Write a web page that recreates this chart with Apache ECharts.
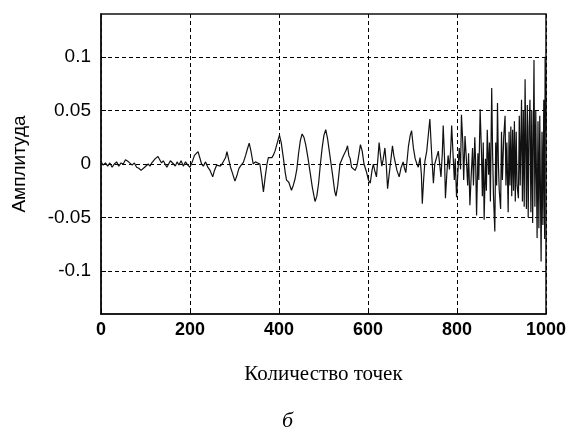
<!DOCTYPE html>
<html>
<head>
<meta charset="utf-8">
<script src="https://cdn.jsdelivr.net/npm/echarts@6/dist/echarts.min.js"></script>
<style>
  html, body { margin: 0; padding: 0; background: #fff; }
  #chart { width: 575px; height: 436px; }
</style>
</head>
<body>
<div id="chart"></div>
<script>
// отсчёты (номер точки) и амплитуда
var pointsX = [
  0, 5, 10, 15, 20, 25, 30, 35, 40, 45, 50, 55, 58, 62, 66, 70, 75, 80, 85, 90,
  94, 98, 102, 106, 110, 114, 118, 122, 128, 132, 136, 140, 144, 148, 152, 156, 159, 163, 167, 171,
  175, 180, 185, 190, 195, 200, 205, 210, 218, 222, 226, 230, 235, 240, 245, 251, 255, 260, 264, 268,
  272, 276, 280, 283, 287, 291, 295, 301, 306, 310, 315, 320, 325, 329, 333, 337, 342, 347, 352, 357,
  361, 365, 369, 373, 376, 380, 384, 387, 391, 395, 401, 405, 410, 414, 417, 422, 428, 432, 436, 440,
  444, 448, 452, 456, 460, 465, 470, 475, 481, 485, 489, 493, 497, 501, 505, 509, 513, 517, 521, 525,
  528, 532, 537, 541, 545, 548, 551, 554, 557, 560, 563, 567, 571, 575, 578, 583, 587, 591, 594, 597,
  601, 605, 609, 612, 615, 619, 622, 625, 628, 631, 634, 638, 641, 644, 648, 652, 655, 658, 661, 665,
  670, 674, 679, 682, 685, 688, 691, 695, 698, 702, 706, 710, 713, 717, 720, 722, 725, 728, 732, 735,
  739, 743, 747, 750, 754, 758, 761, 764, 767, 769, 772, 774, 777, 780, 783, 786, 788, 791, 794, 796,
  799, 802, 805, 808, 810, 813, 815, 818, 821, 824, 826, 829, 832, 835, 837, 840, 842, 844, 847, 849,
  852, 855, 857, 859, 861, 864, 866, 868, 871, 873, 875, 878, 880, 882, 885, 887, 889, 891, 893, 895,
  898, 900, 902, 905, 908, 910, 912, 915, 917, 919, 921, 923, 925, 927, 929, 931, 933, 935, 938, 940,
  942, 945, 947, 949, 951, 953, 956, 958, 960, 962, 964, 966, 968, 970, 973, 975, 977, 980, 982, 984,
  986, 989, 991, 993, 995, 997, 998, 1000
];
var amplitude = [
  0.002, -0.001, 0.001, -0.002, 0.001, -0.003, 0.0, 0.002, -0.002, 0.001, 0.0, 0.004, 0.0055, 0.002, 0.003, -0.001, 0.001, -0.003, -0.004, -0.006,
  -0.007, -0.003, -0.002, 0.0, -0.002, 0.001, 0.002, 0.005, 0.007, 0.004, 0.001, 0.003, 0.0, -0.003, -0.002, 0.003, 0.0046, 0.0, -0.002, 0.002,
  -0.001, 0.003, -0.002, 0.002, -0.001, -0.003, 0.002, 0.008, 0.0115, 0.006, 0.0, -0.002, 0.002, -0.003, -0.006, -0.012, -0.006, -0.001, 0.0, -0.002,
  0.0, -0.001, 0.006, 0.0115, 0.004, -0.003, -0.008, -0.016, -0.01, -0.004, -0.001, 0.0015, 0.008, 0.014, 0.0195, 0.012, 0.0, 0.002, 0.001, 0.0,
  -0.012, -0.026, -0.012, 0.0, 0.006, 0.007, 0.006, 0.008, 0.012, 0.018, 0.027, 0.02, 0.005, -0.008, -0.015, -0.017, -0.0245, -0.02, -0.014, -0.005,
  0.01, 0.022, 0.028, 0.025, 0.018, 0.006, -0.008, -0.022, -0.035, -0.03, -0.018, 0.0, 0.015, 0.027, 0.032, 0.024, 0.012, 0.0, -0.012, -0.025,
  -0.03, -0.02, 0.0, 0.004, 0.008, 0.008, 0.013, 0.017, 0.008, 0.005, -0.003, -0.004, -0.006, -0.002, 0.005, 0.018, 0.012, 0.0, -0.004, -0.008,
  -0.015, -0.018, -0.006, 0.0, -0.006, -0.012, 0.004, 0.02, 0.008, -0.002, 0.004, 0.015, 0.0, -0.023, -0.008, 0.006, 0.017, 0.008, 0.002, -0.006,
  -0.012, -0.004, 0.002, -0.004, -0.008, 0.004, 0.017, 0.027, 0.031, 0.015, 0.005, 0.0, -0.003, 0.006, -0.01, -0.037, -0.015, 0.003, 0.012, 0.025,
  0.042, 0.01, -0.018, 0.0, 0.006, 0.012, 0.0, -0.012, 0.01, 0.036, 0.005, -0.032, -0.01, 0.008, -0.005, 0.015, 0.036, 0.01, -0.015, 0.005,
  -0.031, -0.008, 0.015, -0.005, 0.046, 0.02, -0.015, 0.026, 0.005, -0.02, 0.01, -0.0385, -0.01, 0.015, -0.02, 0.025, 0.0, -0.048, 0.01, -0.015,
  0.051, 0.01, -0.03, 0.02, -0.052, 0.005, -0.025, 0.032, -0.01, 0.02, -0.035, 0.071, 0.01, -0.03, -0.063, 0.02, -0.02, 0.057, 0.0, -0.025,
  -0.042, 0.03, -0.015, 0.025, 0.045, -0.02, 0.02, -0.045, 0.03, -0.02, 0.035, -0.03, 0.032, -0.025, 0.04, -0.035, 0.03, -0.02, -0.032, 0.045,
  -0.02, 0.06, -0.035, 0.05, -0.04, 0.079, -0.042, 0.055, -0.05, 0.035, 0.06, -0.045, 0.05, -0.055, 0.097, -0.04, 0.05, -0.069, 0.04, -0.06,
  0.045, -0.091, 0.03, -0.057, 0.06, -0.07, 0.10, 0.03
];
var xTicks = [0, 200, 400, 600, 800, 1000];
var yTicks = [-0.1, -0.05, 0, 0.05, 0.1];

var seriesData = [];
for (var i = 0; i < pointsX.length; i++) {
  seriesData.push([pointsX[i], amplitude[i]]);
}

var chart = echarts.init(document.getElementById('chart'));
var option = {
  animation: false,
  backgroundColor: '#fff',
  title: {
    text: 'б',
    left: 'center',
    top: 405,
    textStyle: {
      fontFamily: 'Liberation Serif',
      fontStyle: 'italic',
      fontWeight: 'normal',
      fontSize: 22,
      color: '#000'
    }
  },
  grid: {
    left: 101,
    right: 29,
    top: 14,
    bottom: 122,
    show: true,
    borderColor: '#111',
    borderWidth: 1.5,
    backgroundColor: '#fff'
  },
  xAxis: {
    type: 'value',
    min: 0,
    max: 1000,
    interval: 200,
    name: 'Количество точек',
    nameLocation: 'middle',
    nameGap: 50,
    nameTextStyle: {
      fontFamily: 'Liberation Serif',
      fontSize: 21,
      color: '#000'
    },
    axisLine: { show: true, onZero: false, lineStyle: { color: '#111', width: 1.5 } },
    axisTick: { show: true, inside: true, length: 5, lineStyle: { color: '#000' } },
    axisLabel: {
      margin: 7,
      fontFamily: 'Liberation Sans',
      fontWeight: 'bold',
      fontSize: 18,
      color: '#000',
      formatter: function (v) { return xTicks.indexOf(v) >= 0 ? String(v) : ''; }
    },
    splitLine: { show: true, lineStyle: { color: '#000', type: [4, 3], width: 1 } }
  },
  yAxis: {
    type: 'value',
    min: -0.14,
    max: 0.14,
    name: 'Амплитуда',
    nameLocation: 'middle',
    nameGap: 72,
    nameRotate: 90,
    nameTextStyle: {
      fontFamily: 'Liberation Sans',
      fontSize: 19,
      color: '#000'
    },
    axisLine: { show: true, onZero: false, lineStyle: { color: '#111', width: 1.5 } },
    axisTick: { show: true, inside: true, length: 5, customValues: yTicks, lineStyle: { color: '#000' } },
    axisLabel: {
      margin: 10,
      fontFamily: 'Liberation Sans',
      fontSize: 19,
      color: '#000',
      customValues: yTicks,
      formatter: function (v) { return String(Math.round(v * 100) / 100); }
    },
    splitLine: { show: true, lineStyle: { color: '#000', type: [4, 3], width: 1 } }
  },
  series: [
    {
      type: 'line',
      data: seriesData,
      showSymbol: false,
      symbol: 'none',
      lineStyle: { color: '#111', width: 1.2 },
      z: 5
    }
  ]
};
chart.setOption(option);
</script>
</body>
</html>
